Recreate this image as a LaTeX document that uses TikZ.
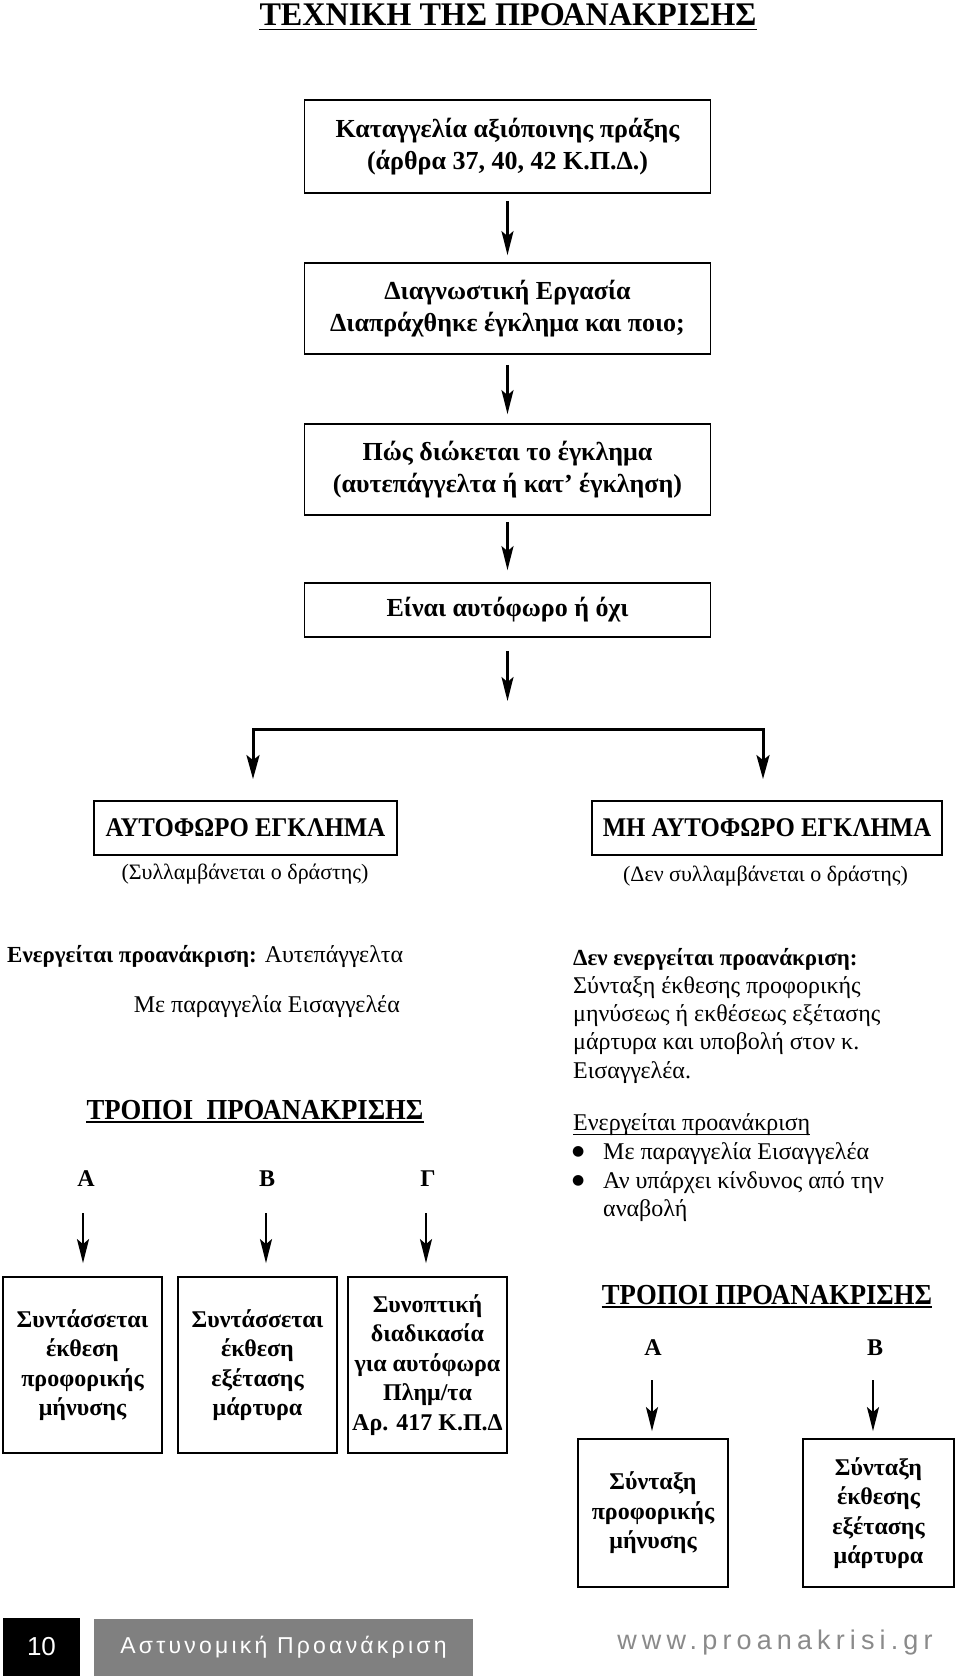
\documentclass[tikz,border=0pt]{standalone}
\usepackage{fontspec}
\setmainfont{Liberation Serif}
\newfontfamily\condserif{Liberation Serif}[FakeStretch=0.92]
\newfontfamily\titleserif{Liberation Serif}[FakeStretch=0.975]
\newfontfamily\sansf{Liberation Sans}
\newfontfamily\sanssp{Liberation Sans}[LetterSpace=14]
\newfontfamily\websp{Liberation Sans}[LetterSpace=19]
\newfontfamily\dejavu{DejaVu Sans}
\usetikzlibrary{arrows.meta}
\definecolor{footgray}{HTML}{808080}
\definecolor{webgray}{HTML}{8A8A8A}
\newcommand{\bfsm}[1]{{\fontsize{23}{28.2}\selectfont\bfseries #1}}
\begin{document}
\begin{tikzpicture}[x=1pt,y=-1pt,
  box/.style={draw, line width=1.8pt, inner sep=0pt, align=center},
  arr/.style={line width=2.2pt, -{Stealth[length=24pt,width=12pt,inset=5pt]}},
  bararr/.style={line width=3pt, {Stealth[length=24pt,width=13pt,inset=5pt]}-{Stealth[length=24pt,width=13pt,inset=5pt]}},
  topbox/.style={box, minimum width=406pt, font=\fontsize{26}{32.5}\selectfont\bfseries},
  bigcap/.style={font=\fontsize{27}{30}\selectfont\condserif\bfseries},
  smallbox/.style={box, font=\fontsize{24}{29.5}\selectfont\bfseries},
  body/.style={inner sep=0pt, font=\fontsize{24}{28.2}\selectfont},
  heading/.style={inner sep=0pt, anchor=base, font=\fontsize{29}{32}\selectfont\condserif\bfseries},
  lbl/.style={inner sep=0pt, anchor=base, font=\fontsize{24}{28}\selectfont\bfseries},
  bul/.style={inner sep=0pt, anchor=base west, font=\fontsize{14}{14}\selectfont\dejavu},
  uline/.style={line width=1.3pt}
]
\useasboundingbox (0,0) rectangle (960,1677);

% title
\node[inner sep=0pt, anchor=base, font=\fontsize{33}{36}\selectfont\titleserif\bfseries] (title) at (508,26) {ΤΕΧΝΙΚΗ ΤΗΣ ΠΡΟΑΝΑΚΡΙΣΗΣ};
\draw[uline] ([yshift=-3.5pt]title.base west) -- ([yshift=-3.5pt]title.base east);

% main column
\node[topbox, minimum height=93pt] (b1) at (507.5,146.5) {Καταγγελία αξιόποινης πράξης\\(άρθρα 37, 40, 42 Κ.Π.Δ.)};
\node[topbox, minimum height=91pt] (b2) at (507.5,308.5) {Διαγνωστική Εργασία\\Διαπράχθηκε έγκλημα και ποιο;};
\node[topbox, minimum height=91pt] (b3) at (507.5,469.5) {Πώς διώκεται το έγκλημα\\(αυτεπάγγελτα ή κατ’ έγκληση)};
\node[topbox, minimum height=54pt] (b4) at (507.5,610) {Είναι αυτόφωρο ή όχι};

\draw[arr, shorten <=7pt, shorten >=7pt] (b1) -- (b2);
\draw[arr, shorten <=10pt, shorten >=9pt] (b2) -- (b3);
\draw[arr, shorten <=6pt, shorten >=12pt] (b3) -- (b4);

\coordinate (split) at (507.5,701);
\draw[arr, shorten <=13pt] (b4) -- (split);

% branch
\node[box, bigcap, minimum width=303pt, minimum height=54pt] (b5) at (245.5,828) {ΑΥΤΟΦΩΡΟ ΕΓΚΛΗΜΑ};
\node[box, bigcap, minimum width=350pt, minimum height=54pt] (b6) at (767,828) {ΜΗ ΑΥΤΟΦΩΡΟ ΕΓΚΛΗΜΑ};
\coordinate (barL) at (253,729);
\coordinate (barR) at (763,729);
\draw[bararr, shorten <=21pt, shorten >=21pt] (barL |- b5.north) -- (barL) -- (barR) -- (barR |- b6.north);

\node[body, font=\fontsize{22}{26}\selectfont] (s5) at (245,874) {(Συλλαμβάνεται ο δράστης)};
\node[body, font=\fontsize{22}{26}\selectfont] (s6) at (765.5,876) {(Δεν συλλαμβάνεται ο δράστης)};

% left block
\node[body, anchor=base west] (l1) at (7,962) {\bfsm{Ενεργείται προανάκριση:} Αυτεπάγγελτα};
\node[body, anchor=base east] (l2) at (400,1012) {Με παραγγελία Εισαγγελέα};
\node[heading] (h1) at (255,1119) {ΤΡΟΠΟΙ\ \ ΠΡΟΑΝΑΚΡΙΣΗΣ};
\draw[uline] ([yshift=-3pt]h1.base west) -- ([yshift=-3pt]h1.base east);

\node[lbl] (la) at (86,1186) {Α};
\node[lbl] (lb) at (267,1186) {Β};
\node[lbl] (lg) at (428,1186) {Γ};

\node[smallbox, minimum width=159pt, minimum height=176pt] (bA) at (82.5,1365) {Συντάσσεται\\έκθεση\\προφορικής\\μήνυσης};
\node[smallbox, minimum width=159pt, minimum height=176pt] (bB) at (257.5,1365) {Συντάσσεται\\έκθεση\\εξέτασης\\μάρτυρα};
\node[smallbox, minimum width=159pt, minimum height=176pt] (bG) at (427.5,1365) {Συνοπτική\\διαδικασία\\για αυτόφωρα\\Πλημ/τα\\Αρ. 417 Κ.Π.Δ};

\draw[arr, shorten <=27pt, shorten >=13pt] ([xshift=-3pt]la.south) -- ([xshift=-3pt]la.south |- bA.north);
\draw[arr, shorten <=27pt, shorten >=13pt] ([xshift=-1pt]lb.south) -- ([xshift=-1pt]lb.south |- bB.north);
\draw[arr, shorten <=27pt, shorten >=13pt] ([xshift=-2pt]lg.south) -- ([xshift=-2pt]lg.south |- bG.north);

% right block
\node[body, anchor=north west, align=left] (r1) at (573,948) {\bfsm{Δεν ενεργείται προανάκριση:}\\Σύνταξη έκθεσης προφορικής\\μηνύσεως ή εκθέσεως εξέτασης\\μάρτυρα και υποβολή στον κ.\\Εισαγγελέα.};
\node[body, anchor=base west] (r2) at (573,1130) {Ενεργείται προανάκριση};
\draw[line width=1pt] ([yshift=-4pt]r2.base west) -- ([yshift=-4pt]r2.base east);
\node[bul] (bu1) at (572,1155) {●};
\node[body, anchor=base west] (i1) at (603,1159) {Με παραγγελία Εισαγγελέα};
\node[bul] (bu2) at (572,1184) {●};
\node[body, anchor=north west, align=left] (i2) at (603,1171) {Αν υπάρχει κίνδυνος από την\\αναβολή};

\node[heading] (h2) at (767,1304) {ΤΡΟΠΟΙ ΠΡΟΑΝΑΚΡΙΣΗΣ};
\draw[uline] ([yshift=-3pt]h2.base west) -- ([yshift=-3pt]h2.base east);
\node[lbl] (ra) at (653,1355) {Α};
\node[lbl] (rb) at (875,1355) {Β};

\node[smallbox, minimum width=150pt, minimum height=148pt] (bL) at (653,1513) {Σύνταξη\\προφορικής\\μήνυσης};
\node[smallbox, minimum width=151pt, minimum height=148pt] (bR) at (878.5,1513) {Σύνταξη\\έκθεσης\\εξέτασης\\μάρτυρα};

\draw[arr, shorten <=25pt, shorten >=7pt] ([xshift=-1pt]ra.south) -- ([xshift=-1pt]ra.south |- bL.north);
\draw[arr, shorten <=25pt, shorten >=7pt] ([xshift=-2pt]rb.south) -- ([xshift=-2pt]rb.south |- bR.north);

% footer
\node[fill=black, inner sep=0pt, minimum width=77pt, minimum height=58pt, text=white, font=\fontsize{26}{28}\selectfont\sansf] (pg) at (41.5,1647) {10};
\node[fill=footgray, inner sep=0pt, minimum width=379pt, minimum height=57pt, text=white, font=\fontsize{23}{26}\selectfont\sanssp] (ft) at (283.5,1647.5) {Αστυνομική Προανάκριση};
\node[inner sep=0pt, text=webgray, font=\fontsize{27}{30}\selectfont\websp] (web) at (775,1642) {www.proanakrisi.gr};
\end{tikzpicture}
\end{document}
